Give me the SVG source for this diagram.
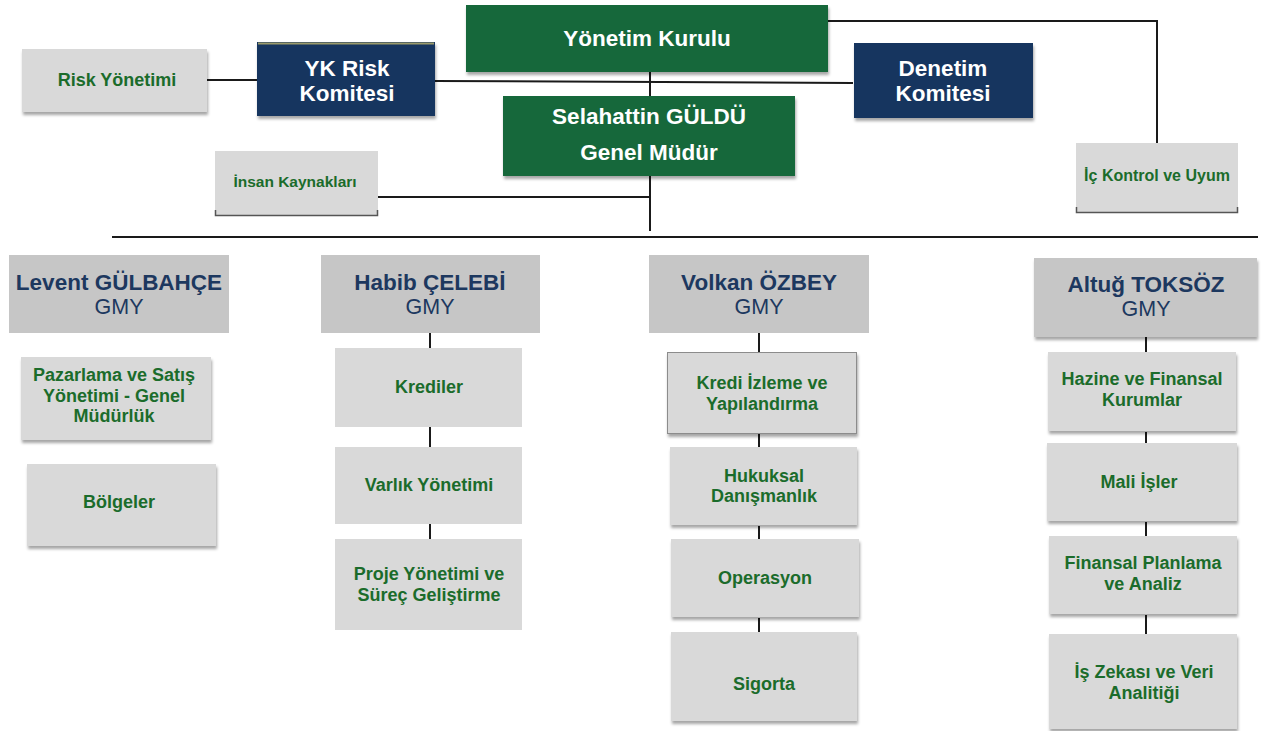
<svg xmlns="http://www.w3.org/2000/svg" width="1269" height="731" viewBox="0 0 1269 731">
<defs>
<filter id="sh" x="-10%" y="-10%" width="125%" height="135%">
<feDropShadow dx="1" dy="3" stdDeviation="1.5" flood-color="#000" flood-opacity="0.35"/>
</filter>
</defs>
<style>
text{font-family:"Liberation Sans",Arial,sans-serif;text-anchor:middle;dominant-baseline:central}
.green{fill:#17683a}
.navy{fill:#14365f}
.gray{fill:#d9d9d9}
.head{fill:#c6c6c6}
.tw{fill:#fff;font-weight:bold;font-size:22.5px}
.tg{fill:#1b6c2b;font-weight:bold;font-size:18px}
.tn{fill:#1d385f;font-weight:bold;font-size:22.5px}
.tr{fill:#1d385f;font-size:21.5px}
.ln{stroke:#1a1a1a;stroke-width:2;fill:none}
</style>
<rect width="1269" height="731" fill="#fff"/>
<g id="connectors">
<line class="ln" x1="207" y1="80" x2="257" y2="80"/>
<line class="ln" x1="435" y1="81" x2="853" y2="83"/>
<line class="ln" x1="650" y1="70" x2="650" y2="97"/>
<line class="ln" x1="650" y1="176" x2="650" y2="231"/>
<line class="ln" x1="378" y1="197" x2="650" y2="197"/>
<polyline class="ln" points="828,21 1157,21 1157,143"/>
<line class="ln" x1="112" y1="237" x2="1258" y2="237"/>
<line class="ln" x1="430" y1="333" x2="430" y2="348"/>
<line class="ln" x1="430" y1="427" x2="430" y2="447"/>
<line class="ln" x1="430" y1="524" x2="430" y2="539"/>
<line class="ln" x1="759" y1="333" x2="759" y2="352"/>
<line class="ln" x1="759" y1="434" x2="759" y2="447"/>
<line class="ln" x1="759" y1="526" x2="759" y2="539"/>
<line class="ln" x1="759" y1="618" x2="759" y2="632"/>
<line class="ln" x1="1146" y1="337" x2="1146" y2="352"/>
<line class="ln" x1="1146" y1="432" x2="1146" y2="443"/>
<line class="ln" x1="1146" y1="522" x2="1146" y2="536"/>
<line class="ln" x1="1146" y1="615" x2="1146" y2="634"/>
</g>
<g id="yonetim-kurulu">
<rect class="green" x="466" y="5" width="362" height="67" filter="url(#sh)"/>
<text class="tw" x="647" y="38">Yönetim Kurulu</text>
</g>
<g id="risk-yonetimi">
<rect class="gray" x="22" y="49" width="185" height="63" filter="url(#sh)"/>
<text class="tg" x="117" y="80">Risk Yönetimi</text>
</g>
<g id="yk-risk">
<rect class="navy" x="257" y="42" width="178" height="74" filter="url(#sh)"/>
<line x1="258" y1="43.5" x2="434" y2="43.5" stroke="#9a9a6a" stroke-width="2"/>
<text class="tw" x="347" y="68">YK Risk</text>
<text class="tw" x="347" y="93">Komitesi</text>
</g>
<g id="denetim">
<rect class="navy" x="854" y="43" width="179" height="75" filter="url(#sh)"/>
<text class="tw" x="943" y="68">Denetim</text>
<text class="tw" x="943" y="93">Komitesi</text>
</g>
<g id="genel-mudur">
<rect class="green" x="503" y="96" width="292" height="80" filter="url(#sh)"/>
<text class="tw" x="649" y="116">Selahattin GÜLDÜ</text>
<text class="tw" x="649" y="152">Genel Müdür</text>
</g>
<g id="insan-kaynaklari">
<rect class="gray" x="215" y="151" width="163" height="64"/>
<path d="M215.5,210 V215.5 H377.5 V210" fill="none" stroke="#555" stroke-width="1.5"/>
<text class="tg" x="295" y="181" style="font-size:15.5px">İnsan Kaynakları</text>
</g>
<g id="ic-kontrol">
<rect class="gray" x="1076" y="143" width="162" height="69"/>
<path d="M1076.5,207 V212.5 H1237.5 V207" fill="none" stroke="#555" stroke-width="1.5"/>
<text class="tg" x="1157" y="175" style="font-size:16px">İç Kontrol ve Uyum</text>
</g>
<g id="levent">
<rect class="head" x="9" y="255" width="220" height="78"/>
<text class="tn" x="119" y="282">Levent GÜLBAHÇE</text>
<text class="tr" x="119" y="307">GMY</text>
</g>
<g id="pazarlama">
<rect class="gray" x="21" y="357" width="190" height="83" filter="url(#sh)"/>
<text class="tg" x="114" y="375">Pazarlama ve Satış</text>
<text class="tg" x="114" y="396">Yönetimi - Genel</text>
<text class="tg" x="114" y="416">Müdürlük</text>
</g>
<g id="bolgeler">
<rect class="gray" x="27" y="464" width="189" height="82" filter="url(#sh)"/>
<text class="tg" x="119" y="502">Bölgeler</text>
</g>
<g id="habib">
<rect class="head" x="321" y="255" width="219" height="78"/>
<text class="tn" x="430" y="282">Habib ÇELEBİ</text>
<text class="tr" x="430" y="307">GMY</text>
</g>
<g id="krediler">
<rect class="gray" x="335" y="348" width="187" height="79"/>
<text class="tg" x="429" y="387">Krediler</text>
</g>
<g id="varlik">
<rect class="gray" x="335" y="447" width="187" height="77"/>
<text class="tg" x="429" y="485">Varlık Yönetimi</text>
</g>
<g id="proje">
<rect class="gray" x="335" y="539" width="187" height="91"/>
<text class="tg" x="429" y="574">Proje Yönetimi ve</text>
<text class="tg" x="429" y="595">Süreç Geliştirme</text>
</g>
<g id="volkan">
<rect class="head" x="649" y="255" width="220" height="78"/>
<text class="tn" x="759" y="282">Volkan ÖZBEY</text>
<text class="tr" x="759" y="307">GMY</text>
</g>
<g id="kredi-izleme">
<rect class="gray" x="667.5" y="352.5" width="189" height="81" stroke="#8c8c8c" stroke-width="1" filter="url(#sh)"/>
<text class="tg" x="762" y="383">Kredi İzleme ve</text>
<text class="tg" x="762" y="404">Yapılandırma</text>
</g>
<g id="hukuksal">
<rect class="gray" x="670" y="447" width="187" height="78" filter="url(#sh)"/>
<text class="tg" x="764" y="476">Hukuksal</text>
<text class="tg" x="764" y="496">Danışmanlık</text>
</g>
<g id="operasyon">
<rect class="gray" x="671" y="539" width="188" height="78" filter="url(#sh)"/>
<text class="tg" x="765" y="578">Operasyon</text>
</g>
<g id="sigorta">
<rect class="gray" x="671" y="632" width="186" height="89" filter="url(#sh)"/>
<text class="tg" x="764" y="684">Sigorta</text>
</g>
<g id="altug">
<rect class="head" x="1034" y="258" width="223" height="79" filter="url(#sh)"/>
<text class="tn" x="1146" y="284">Altuğ TOKSÖZ</text>
<text class="tr" x="1146" y="309">GMY</text>
</g>
<g id="hazine">
<rect class="gray" x="1048" y="352" width="188" height="79" filter="url(#sh)"/>
<text class="tg" x="1142" y="379">Hazine ve Finansal</text>
<text class="tg" x="1142" y="400">Kurumlar</text>
</g>
<g id="mali">
<rect class="gray" x="1047" y="443" width="190" height="78" filter="url(#sh)"/>
<text class="tg" x="1139" y="482">Mali İşler</text>
</g>
<g id="finansal">
<rect class="gray" x="1049" y="536" width="188" height="78" filter="url(#sh)"/>
<text class="tg" x="1143" y="563">Finansal Planlama</text>
<text class="tg" x="1143" y="584">ve Analiz</text>
</g>
<g id="is-zekasi">
<rect class="gray" x="1049" y="634" width="188" height="95" filter="url(#sh)"/>
<text class="tg" x="1144" y="672">İş Zekası ve Veri</text>
<text class="tg" x="1144" y="693">Analitiği</text>
</g>
</svg>
